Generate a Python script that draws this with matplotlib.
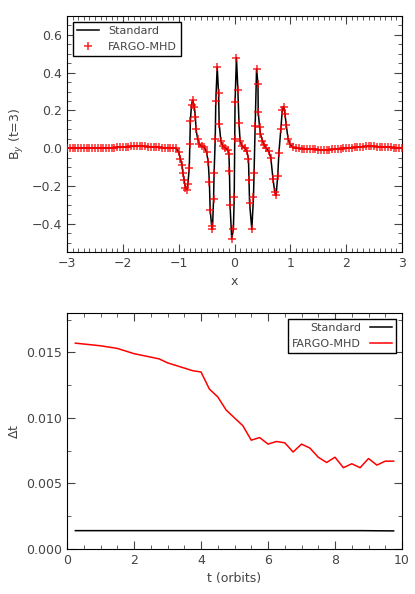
import numpy as np
import matplotlib
matplotlib.use("Agg")
import matplotlib.pyplot as plt
from matplotlib.ticker import AutoMinorLocator

# ---- top panel data ----
left_tail_x = np.round(np.arange(-3.0, -1.07, 0.05), 2)
left_tail_y = [0,0,0,0,0,0,0,0,0,0,0,0,0,0.001,0.001,0.002,0.002,0.003,0.004,0.005,
               0.006,0.007,0.008,0.009,0.01,0.01,0.01,0.01,0.009,0.008,0.007,0.006,0.005,0.004,0.003,0.002,0.002,0.001,0.001]
core_x = [-1.05,-1.0,-0.97,-0.94,-0.925,-0.9,-0.88,-0.855,-0.835,-0.81,-0.80,-0.79,-0.77,-0.75,-0.72,-0.70,-0.69,-0.66,-0.63,-0.585,-0.54,
          -0.5,-0.47,-0.45,-0.435,-0.41,-0.395,-0.375,-0.365,-0.345,-0.335,-0.31,-0.285,-0.275,-0.245,-0.21,-0.17,
          -0.12,-0.1,-0.09,-0.08,-0.05,-0.02,-0.005,0.005,0.01,0.035,0.06,0.08,0.1,0.135,0.18,
          0.22,0.25,0.26,0.27,0.31,0.34,0.35,0.37,0.395,0.42,0.425,0.45,0.465,0.5,0.535,0.57,
          0.61,0.65,0.69,0.72,0.745,0.775,0.795,0.83,0.855,0.88,0.905,0.925,0.96,0.995,1.05]
core_y = [0.0,-0.02,-0.055,-0.09,-0.13,-0.17,-0.21,-0.22,-0.19,-0.105,0.02,0.145,0.23,0.255,0.22,0.165,0.10,0.05,0.02,0.01,0.004,
          -0.02,-0.075,-0.18,-0.33,-0.41,-0.43,-0.27,-0.13,0.05,0.25,0.43,0.29,0.13,0.04,0.01,0.003,
          -0.01,-0.03,-0.12,-0.30,-0.48,-0.43,-0.26,0.05,0.245,0.48,0.31,0.135,0.04,0.01,0.002,
          -0.015,-0.055,-0.17,-0.29,-0.43,-0.26,-0.13,0.115,0.42,0.34,0.19,0.11,0.075,0.04,0.015,0.0,
          -0.015,-0.05,-0.165,-0.23,-0.25,-0.145,-0.025,0.10,0.2,0.22,0.18,0.125,0.05,0.02,0.004]
right_tail_x = np.round(np.arange(1.1, 3.02, 0.05), 2)
right_tail_y = [0,-0.001,-0.002,-0.003,-0.004,-0.005,-0.006,-0.007,-0.008,-0.009,-0.009,-0.009,-0.008,-0.007,-0.006,-0.004,-0.003,-0.001,0,0.001,
                0.003,0.004,0.006,0.007,0.008,0.009,0.009,0.009,0.009,0.008,0.008,0.007,0.006,0.005,0.004,0.003,0.003,0.002,0.002]

# ---- bottom panel data ----
t_std = [0.25, 8.8, 9.75]
dt_std = [0.0014, 0.0014, 0.00138]
t_fargo = [0.25,1.0,1.5,2.0,2.75,3.0,3.5,3.75,4.0,4.25,4.5,4.75,5.0,5.25,5.5,5.75,6.0,6.25,6.5,6.75,7.0,7.25,7.5,7.75,8.0,8.25,8.5,8.75,9.0,9.25,9.5,9.75]
dt_fargo = [0.0157,0.0155,0.0153,0.0149,0.0145,0.0142,0.0138,0.0136,0.0135,0.0122,0.0116,0.0106,0.0100,0.0094,0.0083,0.0085,0.0080,0.0082,0.0081,0.0074,0.0080,0.0077,0.0070,0.0066,0.0070,0.0062,0.0065,0.0062,0.0069,0.0064,0.0067,0.0067]

xs = np.concatenate([left_tail_x, core_x, right_tail_x])
ys = np.concatenate([left_tail_y, core_y, right_tail_y])
gray = '#444444'
plt.rcParams.update({'font.family': 'DejaVu Sans', 'font.size': 9,
                     'text.color': gray, 'axes.labelcolor': gray,
                     'xtick.color': gray, 'ytick.color': gray})

fig = plt.figure(figsize=(4.15, 5.94), dpi=100)
ax1 = fig.add_axes([67/415, 1-252/594, 335/415, 236/594])
ax2 = fig.add_axes([67/415, 1-549/594, 335/415, 236/594])

ax1.plot(xs, ys, color='black', lw=1.1, label='Standard', zorder=2)
ax1.plot(xs, ys, ls='none', marker='+', ms=6, mew=1.1, color='red', alpha=0.85, label='FARGO-MHD', zorder=3)
ax1.set_xlim(-3, 3)
ax1.set_ylim(-0.55, 0.7)
ax1.set_xticks([-3,-2,-1,0,1,2,3])
ax1.set_yticks([-0.4,-0.2,0.0,0.2,0.4,0.6])
ax1.set_yticklabels(['\u22120.4','\u22120.2','0.0','0.2','0.4','0.6'])
ax1.set_xticklabels(['\u22123','\u22122','\u22121','0','1','2','3'])
ax1.set_xlabel('x')
ax1.set_ylabel(r'B$_y$ (t=3)')
ax1.legend(loc='upper left', fontsize=8, fancybox=False, edgecolor='black', framealpha=1)

ax2.plot(t_std, dt_std, color='black', lw=1.1, label='Standard')
ax2.plot(t_fargo, dt_fargo, color='red', lw=1.1, label='FARGO-MHD')
ax2.set_xlim(0, 10)
ax2.set_ylim(0, 0.018)
ax2.set_xticks([0,2,4,6,8,10])
ax2.set_yticks([0.0,0.005,0.010,0.015])
ax2.set_yticklabels(['0.000','0.005','0.010','0.015'])
ax2.set_xlabel('t (orbits)')
ax2.set_ylabel(r'$\Delta$t')
ax2.legend(loc='upper right', fontsize=8, fancybox=False, edgecolor='black', framealpha=1,
           markerfirst=False)

for ax in (ax1, ax2):
    ax.tick_params(which='both', direction='in', top=True, right=True)
    ax.tick_params(which='major', length=6)
    ax.tick_params(which='minor', length=3)
    ax.xaxis.set_minor_locator(AutoMinorLocator(10 if ax is ax1 else 4))
    ax.yaxis.set_minor_locator(AutoMinorLocator(4 if ax is ax1 else 2))
    for s in ax.spines.values():
        s.set_color('black')

fig.savefig('out.png', dpi=100)
